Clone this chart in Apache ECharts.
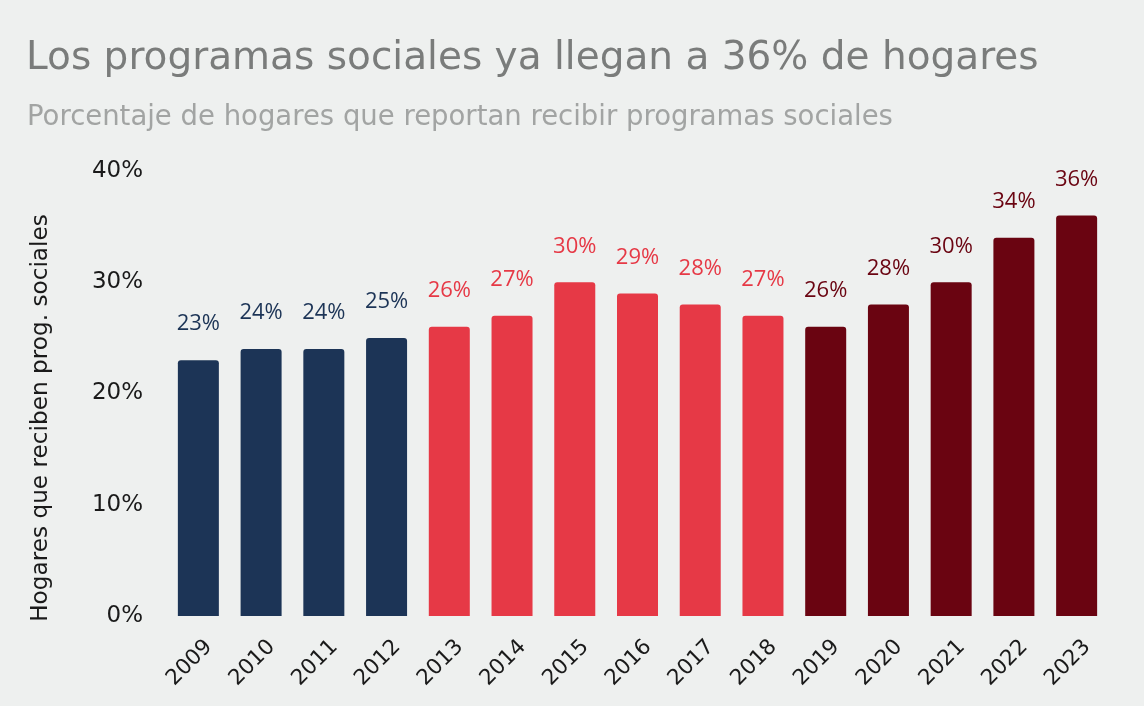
<!DOCTYPE html>
<html><head><meta charset="utf-8">
<script src="https://cdn.jsdelivr.net/npm/echarts@6/dist/echarts.min.js"></script>
<style>html,body{margin:0;padding:0;background:#eef0ef}#c{width:1144px;height:706px}</style>
</head><body><div id="c"></div>
<script>
const years = ['2009','2010','2011','2012','2013','2014','2015','2016','2017','2018','2019','2020','2021','2022','2023'];
const values = [23,24,24,25,26,27,30,29,28,27,26,28,30,34,36];
const groups = [0,0,0,0,1,1,1,1,1,1,2,2,2,2,2];
const palette = ['#1c3456','#e63946','#6a0411'];
const yTicks = [0,10,20,30,40];
const FONT = 'DejaVu Sans';
const chart = echarts.init(document.getElementById('c'));
chart.setOption({
  backgroundColor:'#eef0ef',
  animation:false,
  textStyle:{fontFamily:FONT},
  title:[
    {text:'Los programas sociales ya llegan a 36% de hogares',left:21,top:34,textStyle:{fontFamily:FONT,fontSize:39,fontWeight:'normal',color:'#7a7c7b'}},
    {text:'Porcentaje de hogares que reportan recibir programas sociales',left:22,top:99,textStyle:{fontFamily:FONT,fontSize:27.5,fontWeight:'normal',color:'#a2a4a3'}}
  ],
  graphic:[{type:'text',x:41,y:418,rotation:Math.PI/2,
    style:{text:'Hogares que reciben prog. sociales',fontSize:23.2,fontFamily:FONT,fill:'#1a1a1a',align:'center',verticalAlign:'middle'}}],
  grid:{left:167,right:36,top:171,bottom:90},
  xAxis:{type:'category',data:years,axisLine:{show:false},axisTick:{show:false},
    axisLabel:{rotate:45,fontSize:21.5,lineHeight:30,color:'#1a1a1a',margin:17,verticalAlign:'top',fontFamily:FONT}},
  yAxis:{type:'value',min:0,max:40,interval:10,splitLine:{show:false},
    axisLabel:{formatter:v=>yTicks.includes(v)?v+'%':'',fontSize:23,color:'#1a1a1a',margin:24,fontFamily:FONT}},
  series:[{type:'bar',barWidth:41,
    data:values.map((v,i)=>({value:v,itemStyle:{color:palette[groups[i]],borderRadius:[3,3,0,0]},
      label:{color:palette[groups[i]]}})),
    label:{show:true,position:'top',distance:25,fontSize:22,formatter:p=>p.value+'%',fontFamily:'Open Sans'}
  }]
});
</script></body></html>
